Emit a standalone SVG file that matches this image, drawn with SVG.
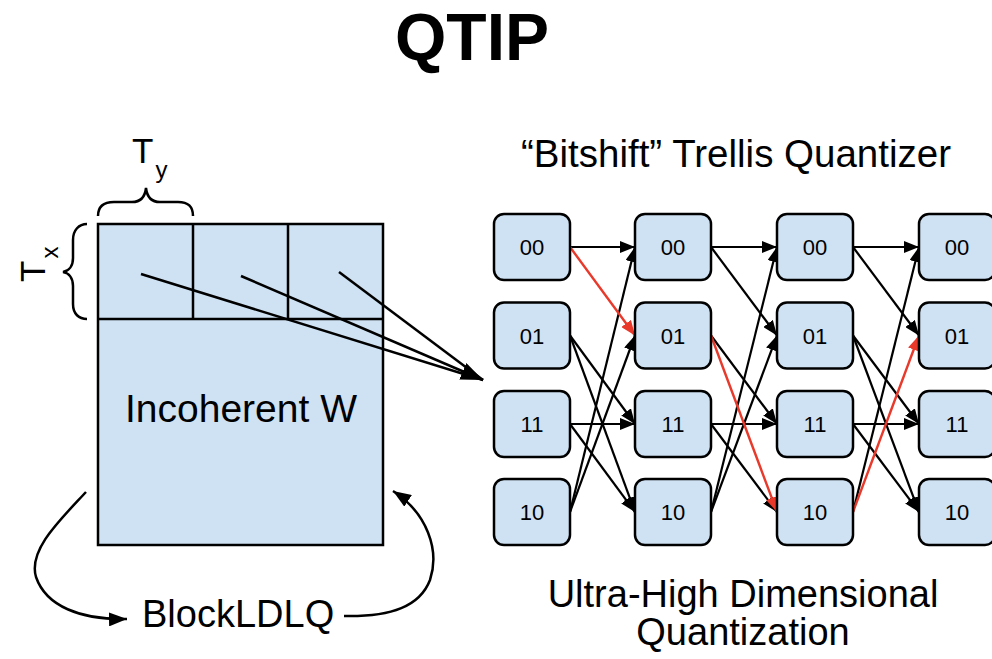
<svg xmlns="http://www.w3.org/2000/svg" width="992" height="659" viewBox="0 0 992 659">
<defs>
<style>
text{font-family:"Liberation Sans",Arial,sans-serif;fill:#000}
.node rect{fill:#cfe2f3;stroke:#000;stroke-width:2.5}
.node text{font-size:22px;text-anchor:middle}
.e{stroke:#000;stroke-width:2.2;fill:none;marker-end:url(#ah)}
.r{stroke:#e8392a;stroke-width:2.4;fill:none;marker-end:url(#ahr)}
.ln{stroke:#000;stroke-width:2.5;fill:none}
</style>
<marker id="ah" markerUnits="userSpaceOnUse" markerWidth="15" markerHeight="12" refX="15" refY="6" orient="auto"><path d="M0,0 L15,6 L0,12 z" fill="#000"/></marker>
<marker id="ahr" markerUnits="userSpaceOnUse" markerWidth="15" markerHeight="12" refX="15" refY="6" orient="auto"><path d="M0,0 L15,6 L0,12 z" fill="#e8392a"/></marker>
<marker id="ahb" markerUnits="userSpaceOnUse" markerWidth="22" markerHeight="18" refX="22" refY="9" orient="auto"><path d="M0,0 L22,9 L0,18 z" fill="#000"/></marker>
<marker id="ahc" markerUnits="userSpaceOnUse" markerWidth="18" markerHeight="14" refX="18" refY="7" orient="auto"><path d="M0,0 L18,7 L0,14 z" fill="#000"/></marker>
</defs>
<rect width="992" height="659" fill="#fff"/>
<text x="472" y="60" font-size="66" font-weight="bold" text-anchor="middle">QTIP</text>

<g id="matrix">
<rect x="98" y="224" width="285" height="321" fill="#cfe2f3" stroke="#000" stroke-width="2.5"/>
<path class="ln" d="M98,319 H383 M193,224 V319 M288,224 V319"/>
<text x="241" y="422" text-anchor="middle" font-size="39">Incoherent W</text>
</g>

<g id="ty-label">
<path class="ln" stroke-width="2" d="M98,216 C98,206 104,202 114,202 L132,202 C140,202 145,197 146,188 C147,197 152,202 160,202 L178,202 C188,202 193,206 193,216"/>
<text x="132" y="163" font-size="35">T<tspan font-size="24" dx="2" dy="15">y</tspan></text>
</g>
<g id="tx-label">
<path class="ln" stroke-width="2" d="M87,224 C79,224 73,230 73,240 L73,258 C73,266 69,271 63,272 C69,273 73,278 73,286 L73,304 C73,314 79,319 87,319"/>
<text transform="translate(45,282) rotate(-90)" font-size="35">T<tspan font-size="24" dx="2" dy="13">x</tspan></text>
</g>

<g id="blockldlq">
<text x="142" y="627" font-size="38">BlockLDLQ</text>
</g>

<g id="titles">
<text x="736" y="167" font-size="38.5" text-anchor="middle">“Bitshift” Trellis Quantizer</text>
<text x="743" y="607" font-size="38" text-anchor="middle">Ultra-High Dimensional</text>
<text x="743" y="645" font-size="38" text-anchor="middle">Quantization</text>
</g>

<g id="connectors">
<path class="ln" d="M141,274 L483,380"/>
<path class="ln" d="M339,272 L483,380"/>
<path class="ln" d="M241,276 L483,380" marker-end="url(#ahb)"/>
<path class="ln" stroke-width="2.2" d="M86,492 C60,520 28,550 36,577 C46,606 80,620 127,619" marker-end="url(#ahc)"/>
<path class="ln" stroke-width="2.2" d="M344,616 C392,617 420,606 430,580 C440,550 427,513 393,491" marker-end="url(#ahc)"/>

<path class="e" d="M570,247 L635,247"/>
<path class="e" d="M570,335.5 L635,424"/>
<path class="e" d="M570,335.5 L635,512"/>
<path class="e" d="M570,424 L635,424"/>
<path class="e" d="M570,424 L635,512"/>
<path class="e" d="M570,512 L635,247"/>
<path class="e" d="M570,512 L635,335.5"/>
<path class="r" d="M570,247 L635,335.5"/>

<path class="e" d="M711,247 L777,247"/>
<path class="e" d="M711,247 L777,335.5"/>
<path class="e" d="M711,335.5 L777,424"/>
<path class="e" d="M711,424 L777,424"/>
<path class="e" d="M711,424 L777,512"/>
<path class="e" d="M711,512 L777,247"/>
<path class="e" d="M711,512 L777,335.5"/>
<path class="r" d="M711,335.5 L777,512"/>

<path class="e" d="M853,247 L919,247"/>
<path class="e" d="M853,247 L919,335.5"/>
<path class="e" d="M853,335.5 L919,424"/>
<path class="e" d="M853,335.5 L919,512"/>
<path class="e" d="M853,424 L919,424"/>
<path class="e" d="M853,424 L919,512"/>
<path class="e" d="M853,512 L919,247"/>
<path class="r" d="M853,512 L919,335.5"/>
</g>

<g id="c1-00" class="node"><rect x="494" y="214" width="76" height="66" rx="10"/><text x="532" y="255">00</text></g>
<g id="c1-01" class="node"><rect x="494" y="302.5" width="76" height="66" rx="10"/><text x="532" y="343.5">01</text></g>
<g id="c1-11" class="node"><rect x="494" y="391" width="76" height="66" rx="10"/><text x="532" y="432">11</text></g>
<g id="c1-10" class="node"><rect x="494" y="479" width="76" height="66" rx="10"/><text x="532" y="520">10</text></g>

<g id="c2-00" class="node"><rect x="635" y="214" width="76" height="66" rx="10"/><text x="673" y="255">00</text></g>
<g id="c2-01" class="node"><rect x="635" y="302.5" width="76" height="66" rx="10"/><text x="673" y="343.5">01</text></g>
<g id="c2-11" class="node"><rect x="635" y="391" width="76" height="66" rx="10"/><text x="673" y="432">11</text></g>
<g id="c2-10" class="node"><rect x="635" y="479" width="76" height="66" rx="10"/><text x="673" y="520">10</text></g>

<g id="c3-00" class="node"><rect x="777" y="214" width="76" height="66" rx="10"/><text x="815" y="255">00</text></g>
<g id="c3-01" class="node"><rect x="777" y="302.5" width="76" height="66" rx="10"/><text x="815" y="343.5">01</text></g>
<g id="c3-11" class="node"><rect x="777" y="391" width="76" height="66" rx="10"/><text x="815" y="432">11</text></g>
<g id="c3-10" class="node"><rect x="777" y="479" width="76" height="66" rx="10"/><text x="815" y="520">10</text></g>

<g id="c4-00" class="node"><rect x="919" y="214" width="76" height="66" rx="10"/><text x="957" y="255">00</text></g>
<g id="c4-01" class="node"><rect x="919" y="302.5" width="76" height="66" rx="10"/><text x="957" y="343.5">01</text></g>
<g id="c4-11" class="node"><rect x="919" y="391" width="76" height="66" rx="10"/><text x="957" y="432">11</text></g>
<g id="c4-10" class="node"><rect x="919" y="479" width="76" height="66" rx="10"/><text x="957" y="520">10</text></g>
</svg>
